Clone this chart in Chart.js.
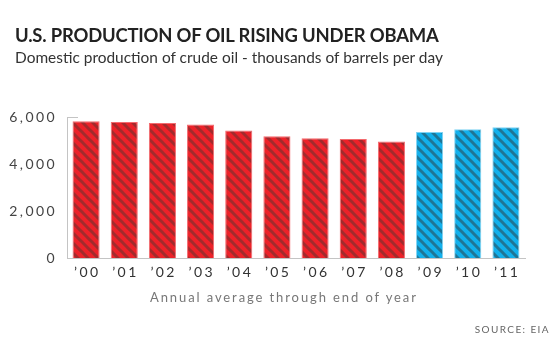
<!DOCTYPE html>
<html>
<head>
<meta charset="utf-8">
<script src="https://cdn.jsdelivr.net/npm/chart.js@4/dist/chart.umd.min.js"></script>
<style>
  body { margin: 0; background: #fff; }
  #wrap { position: relative; width: 560px; height: 338px; overflow: hidden; font-family: Lato, "Open Sans", sans-serif; }
  #chart { position: absolute; left: 0; top: 0; }
  .txt { position: absolute; white-space: nowrap; transform-origin: left top; }
  #title { left: 15px; top: 23px; font-size: 19.5px; font-weight: bold; color: #222; letter-spacing: -0.2px; transform: scaleX(0.945); }
  #subtitle { left: 15px; top: 47px; font-size: 16px; color: #333; transform: scaleX(0.965); }
  #xtitle { left: 150px; top: 289px; font-size: 13px; color: #777; letter-spacing: 1.9px; }
  #source { right: 10px; top: 323px; font-size: 10px; color: #666; letter-spacing: 1.4px; }
</style>
</head>
<body>
<div id="wrap">
  <canvas id="chart" width="560" height="338"></canvas>
  <div class="txt" id="title">U.S. PRODUCTION OF OIL RISING UNDER OBAMA</div>
  <div class="txt" id="subtitle">Domestic production of crude oil - thousands of barrels per day</div>
  <div class="txt" id="xtitle">Annual average through end of year</div>
  <div class="txt" id="source">SOURCE: EIA</div>
</div>
<script>
// Years on the x axis
const years = ['’00', '’01', '’02', '’03', '’04', '’05', '’06', '’07', '’08', '’09', '’10', '’11'];
// Crude oil production, thousands of barrels per day
const production = [5820, 5790, 5745, 5685, 5430, 5185, 5100, 5060, 4955, 5360, 5475, 5560];
// Who was in office that year
const president = ['Bush', 'Bush', 'Bush', 'Bush', 'Bush', 'Bush', 'Bush', 'Bush', 'Bush', 'Obama', 'Obama', 'Obama'];
// y axis ticks
const yTicks = [0, 2000, 4000, 6000];

// Diagonal stripe fill
function stripes(light, dark) {
    const s = 10;
    const c = document.createElement('canvas');
    c.width = s; c.height = s;
    const x = c.getContext('2d');
    x.fillStyle = light;
    x.fillRect(0, 0, s, s);
    x.strokeStyle = dark;
    x.lineWidth = 3;
    for (let k = -1; k <= 1; k++) {
        x.beginPath();
        x.moveTo(k * s - s, -s);
        x.lineTo(k * s + 2 * s, 2 * s);
        x.stroke();
    }
    return x.createPattern(c, 'repeat');
}

const ctx = document.getElementById('chart').getContext('2d');
const redFill = stripes('#ec2229', '#a22b2d');
const blueFill = stripes('#12b0ec', '#1f7595');

// wider letter spacing for tick labels
const spacing = {
    id: 'spacing',
    beforeDraw(chart) { chart.ctx.letterSpacing = '2.4px'; },
    afterDraw(chart) { chart.ctx.letterSpacing = '0px'; }
};

// short stub at the top tick of the y axis
const topStub = {
    id: 'topStub',
    afterDraw(chart) {
        const y = chart.scales.y;
        const py = Math.round(y.getPixelForValue(y.max)) + 0.5;
        const c = chart.ctx;
        c.save();
        c.strokeStyle = '#c4c4c4';
        c.lineWidth = 1;
        c.beginPath();
        c.moveTo(chart.chartArea.left, py);
        c.lineTo(chart.chartArea.left + 11, py);
        c.stroke();
        c.restore();
    }
};

new Chart(ctx, {
    type: 'bar',
    data: {
        labels: years,
        datasets: [{
            data: production,
            backgroundColor: president.map(p => p === 'Obama' ? blueFill : redFill),
            borderColor: president.map(p => p === 'Obama' ? '#7fd3f3' : '#f36a6e'),
            borderWidth: 1,
            borderSkipped: 'bottom',
            barPercentage: 0.71,
            categoryPercentage: 1
        }]
    },
    options: {
        responsive: false,
        animation: false,
        layout: { padding: { top: 117, right: 35, left: 0, bottom: 0 } },
        plugins: {
            legend: { display: false },
            tooltip: { enabled: false }
        },
        scales: {
            x: {
                grid: { display: false, drawTicks: false },
                border: { display: true, color: '#c4c4c4', width: 1 },
                ticks: {
                    color: '#333',
                    font: { family: 'Lato', size: 14 },
                    padding: 6,
                    labelOffset: 1.2,
                    maxRotation: 0
                },
                afterFit(s) { s.height = 80; }
            },
            y: {
                min: 0,
                max: 6000,
                afterBuildTicks(s) { s.ticks = yTicks.map(v => ({ value: v })); },
                grid: { display: false, drawTicks: false },
                border: { display: true, color: '#c4c4c4', width: 1 },
                ticks: {
                    color: '#444',
                    font: { family: 'Lato', size: 14 },
                    padding: 10,
                    callback: v => v.toLocaleString('en-US')
                },
                afterFit(s) { s.width = 67; }
            }
        }
    },
    plugins: [spacing, topStub]
});
</script>
</body>
</html>
